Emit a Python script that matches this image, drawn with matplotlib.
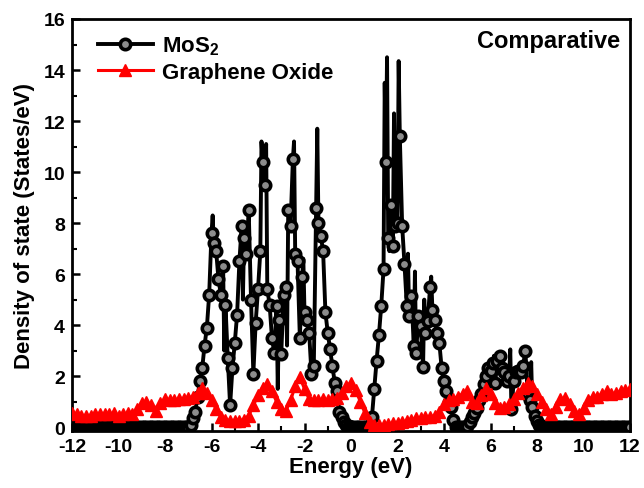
import numpy as np
import matplotlib
matplotlib.use("Agg")
import matplotlib.pyplot as plt
from matplotlib.ticker import MultipleLocator

plt.rcParams['font.family'] = ['Liberation Sans', 'DejaVu Sans']
plt.rcParams['font.weight'] = 'bold'
plt.rcParams['axes.labelweight'] = 'bold'
plt.rcParams['axes.unicode_minus'] = False
plt.rcParams['mathtext.fontset'] = 'custom'
plt.rcParams['mathtext.rm'] = 'Liberation Sans:bold'
plt.rcParams['mathtext.bf'] = 'Liberation Sans:bold'
plt.rcParams['mathtext.default'] = 'bf'

# MoS2 DOS on a 0.1 eV grid (-12 ... 12 eV)
mos2_energy = np.round(np.arange(-12.0, 12.05, 0.1), 2)
mos2_region1 = [  # -7.0 ... 0.0
    0.0, 0.1, 0.35, 0.6, 1.2, 1.8, 2.3, 3.2, 3.9, 5.2,
    7.6, 7.2, 6.9, 5.8, 5.2, 6.3, 4.8, 2.7, 0.85, 2.3,
    3.3, 4.4, 6.5, 7.9, 7.4, 6.8, 8.5, 5.0, 2.1, 4.1,
    5.4, 6.9, 10.4, 9.5, 5.4, 4.8, 3.5, 2.9, 4.75, 4.2,
    2.85, 5.2, 5.5, 8.5, 7.9, 10.5, 6.8, 6.5, 3.5, 5.9,
    4.5, 4.2, 3.7, 2.1, 2.4, 8.6, 8.0, 7.5, 6.9, 4.5,
    3.7, 3.05, 2.4, 1.75, 1.4, 0.6, 0.4, 0.2, 0.1, 0.05,
    0.0,
]
mos2_region2 = [  # 0.8 ... 4.5
    0.05, 0.4, 1.5, 2.6, 3.6, 4.75, 6.2, 10.4, 7.4, 8.7,
    7.1, 7.9, 8.0, 11.4, 7.9, 6.4, 4.75, 4.35, 5.15, 3.2,
    2.9, 4.35, 3.95, 2.35, 3.7, 4.15, 5.5, 4.6, 4.2, 3.7,
    3.3, 2.3, 1.8, 1.4, 1.0, 0.8, 0.3, 0.0,
]
mos2_region3 = [  # 5.0 ... 8.3
    0.05, 0.2, 0.4, 0.55, 0.75, 1.05, 1.3, 1.7, 2.0, 2.3,
    2.2, 2.5, 1.75, 2.6, 2.8, 2.3, 2.15, 1.8, 2.0, 0.7,
    1.8, 2.15, 2.2, 2.15, 2.4, 3.0, 1.25, 1.05, 0.8, 0.45,
    0.25, 0.1, 0.03, 0.0,
]
mos2_dos = ([0.0] * 50 + mos2_region1 + [0.0] * 7 + mos2_region2
            + [0.0] * 4 + mos2_region3 + [0.0] * 37)

# narrow peaks of the MoS2 curve that carry no marker
spike_energy = [-5.95, -5.45, -4.65, -3.85, -3.65, -3.15, -2.75, -2.45,
                -2.05, -1.45, 1.45, 1.55, 1.65, 1.85, 2.05, 2.45, 2.75,
                3.15, 3.45, 6.15, 6.85, 7.75]
spike_dos = [8.3, 3.0, 5.0, 11.2, 11.1, 1.5, 3.2, 11.2,
             6.6, 11.7, 13.5, 14.5, 6.9, 12.3, 14.35, 6.8, 6.1,
             5.0, 5.9, 2.8, 3.05, 2.55]

# Graphene oxide DOS on a 0.2 eV grid
go_energy = np.round(np.arange(-12.0, 12.05, 0.2), 2)
go_dos = [
    0.55, 0.5, 0.45, 0.45, 0.45, 0.5, 0.5, 0.5, 0.5, 0.55,
    0.45, 0.5, 0.55, 0.5, 0.7, 0.95, 1.0, 0.85, 0.65, 0.95,
    1.1, 1.05, 1.05, 1.1, 1.1, 1.15, 1.2, 1.35, 1.55, 1.35,
    1.05, 0.7, 0.4, 0.3, 0.25, 0.25, 0.25, 0.3, 0.45, 0.85,
    1.25, 1.55, 1.7, 1.4, 1.0, 0.7, 0.65, 1.05, 1.6, 1.95,
    1.5, 1.1, 1.05, 1.05, 1.1, 1.05, 1.1, 1.15, 1.35, 1.6,
    1.75, 1.45, 1.0, 0.55, 0.2, 0.1, 0.1, 0.1, 0.12, 0.15,
    0.15, 0.2, 0.25, 0.3, 0.35, 0.35, 0.4, 0.4, 0.45, 0.6,
    0.9, 1.05, 1.1, 1.2, 1.3, 1.4, 1.0, 0.95, 1.25, 1.55,
    1.3, 0.95, 0.75, 0.8, 0.9, 1.1, 1.35, 1.55, 1.75, 1.6,
    1.3, 1.0, 0.7, 0.5, 0.8, 1.1, 1.15, 0.9, 0.65, 0.5,
    0.75, 1.05, 1.2, 1.2, 1.3, 1.4, 1.3, 1.35, 1.4, 1.45,
    1.5,
]

# merge grid points and spikes, markers only on the grid points
all_e = np.concatenate([mos2_energy, spike_energy])
all_v = np.concatenate([mos2_dos, spike_dos])
order = np.argsort(all_e, kind='stable')
all_e = all_e[order]
all_v = all_v[order]
marker_idx = list(np.where(order < len(mos2_energy))[0])

fig = plt.figure(figsize=(6.44, 4.89), dpi=100)
ax = fig.add_axes([72 / 644, 1 - 432 / 489, 558 / 644, 412 / 489])

ax.plot(all_e, all_v, color='black', lw=2.8, marker='o', ms=7.5,
        mfc='#8c8c8c', mec='black', mew=2.6, markevery=marker_idx,
        label='MoS$_2$', zorder=2)
ax.plot(go_energy, go_dos, color='red', lw=2.2, marker='^', ms=8.5,
        mfc='red', mec='red', label='Graphene Oxide', zorder=3)

ax.set_xlim(-12, 12)
ax.set_ylim(-0.15, 16)
ax.set_xticks(range(-12, 13, 2))
ax.set_yticks(range(0, 17, 2))
ax.xaxis.set_minor_locator(MultipleLocator(1))
ax.yaxis.set_minor_locator(MultipleLocator(1))
ax.tick_params(which='major', direction='in', length=6, width=1.8,
               labelsize=14, pad=5)
ax.tick_params(which='minor', direction='in', length=3.5, width=1.5)
for sp in ax.spines.values():
    sp.set_linewidth(2)

ax.set_xlabel("Energy (eV)", fontsize=16, labelpad=1)
ax.set_ylabel("Density of state (States/eV)", fontsize=16, labelpad=6)

ax.legend(loc='upper left', bbox_to_anchor=(0.018, 1.0), frameon=False,
          fontsize=16, handlelength=2.5, handletextpad=0.4,
          labelspacing=0.2, borderaxespad=0.4, borderpad=0.3)
ax.text(0.983, 0.975, "Comparative", transform=ax.transAxes, ha='right',
        va='top', fontsize=17, fontweight='bold')

fig.savefig("out.png", dpi=100)
